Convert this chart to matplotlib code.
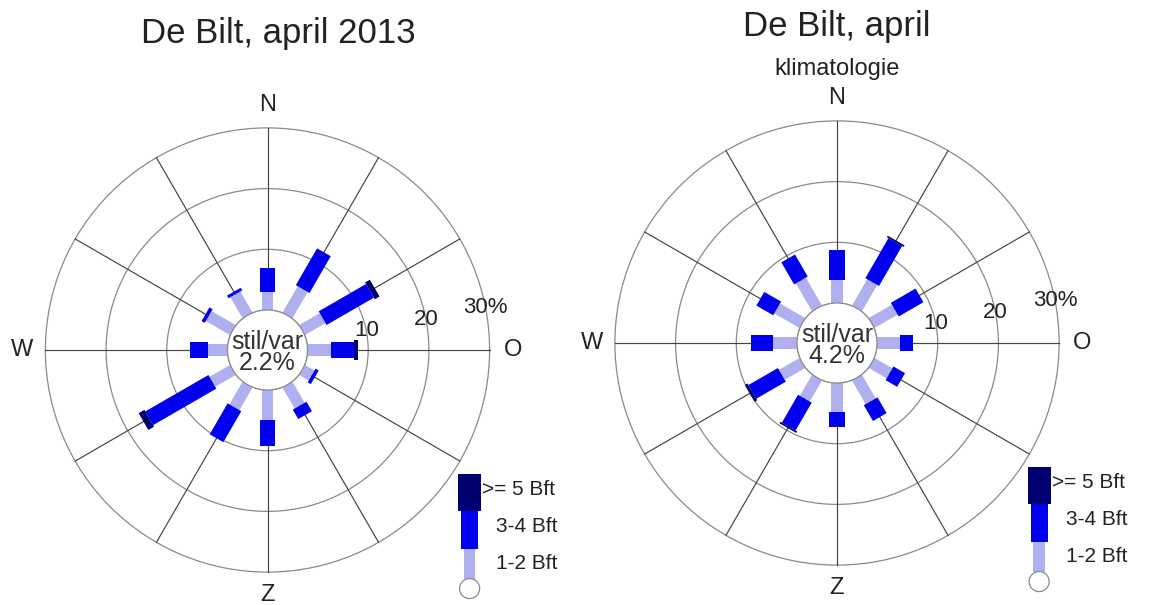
import numpy as np
import matplotlib
matplotlib.use("Agg")
import matplotlib.pyplot as plt
from matplotlib.patches import Polygon, Circle

plt.rcParams['font.family'] = ['Liberation Sans', 'DejaVu Sans']

# ---------------- data ----------------
directions = [0, 30, 60, 90, 120, 150, 180, 210, 240, 270, 300, 330]
compass_angles = [0, 90, 180, 270]
compass_labels = ['N', 'O', 'Z', 'W']
ring_values = [10, 20, 30]
ring_labels = ['10', '20', '30%']
legend_labels = ['>= 5 Bft', '3-4 Bft', '1-2 Bft']
calm_label = 'stil/var'

title_2013 = 'De Bilt, april 2013'
calm_2013 = 2.2
bft12_2013 = [3.0, 5.0, 3.9, 3.9, 1.8, 4.0, 5.0, 4.3, 3.9, 3.2, 4.6, 4.0]
bft34_2013 = [4.0, 7.0, 9.0, 3.7, 0.6, 1.8, 4.2, 5.9, 12.0, 2.9, 0.6, 0.5]
bft5_2013 = [0.0, 0.0, 0.9, 0.8, 0.0, 0.0, 0.0, 0.0, 1.1, 0.0, 0.0, 0.0]

title_clim = 'De Bilt, april'
subtitle_clim = 'klimatologie'
calm_clim = 4.2
bft12_clim = [3.8, 5.0, 4.4, 3.8, 3.4, 4.5, 4.7, 4.0, 3.9, 3.9, 4.8, 5.3]
bft34_clim = [4.9, 7.6, 4.7, 2.2, 2.2, 3.0, 2.5, 5.3, 5.6, 3.6, 3.2, 4.2]
bft5_clim = [0.0, 0.3, 0.0, 0.0, 0.0, 0.0, 0.0, 0.3, 0.5, 0.0, 0.0, 0.0]

# ---------------- style ----------------
W_PX, H_PX = 1151, 605
U = 6.07            # pixels per percent
R0 = 40 / U         # radius of calm circle (data units)
C_LIGHT = '#b0b0f0'
C_BLUE = '#0000ee'
C_DARK = '#000070'
W_LIGHT, W_BLUE, W_DARK = 1.9, 2.6, 3.2

fig = plt.figure(figsize=(W_PX / 100, H_PX / 100), dpi=100)
fig.patch.set_facecolor('white')


def make_ax(left_px, right_px, cx, cy):
    ax = fig.add_axes([left_px / W_PX, 0, (right_px - left_px) / W_PX, 1])
    ax.set_xlim((left_px - cx) / U, (right_px - cx) / U)
    ax.set_ylim((cy - H_PX) / U, cy / U)
    ax.axis('off')
    return ax


def bar(ax, ang, r1, r2, w, color, z=3):
    th = np.deg2rad(ang)
    d = np.array([np.sin(th), np.cos(th)])
    n = np.array([np.cos(th), -np.sin(th)])
    p1, p2 = d * r1, d * r2
    pts = [p1 + n * w / 2, p2 + n * w / 2, p2 - n * w / 2, p1 - n * w / 2]
    ax.add_patch(Polygon(pts, closed=True, facecolor=color, edgecolor='none', zorder=z))


def rose(ax, b12, b34, b5, calm):
    rmax = R0 + ring_values[-1]
    # rings
    for rv in [0] + ring_values:
        ax.add_patch(Circle((0, 0), R0 + rv, facecolor='none', edgecolor='#8a8a8a',
                            lw=0.9, zorder=1))
    # spokes
    for ang in directions:
        th = np.deg2rad(ang)
        ax.plot([R0 * np.sin(th), rmax * np.sin(th)], [R0 * np.cos(th), rmax * np.cos(th)],
                color='#444444', lw=0.85, zorder=2)
    # bars
    for ang, a, b, c in zip(directions, b12, b34, b5):
        r1 = R0 + a
        r2 = r1 + b
        r3 = r2 + c
        bar(ax, ang, R0, r1, W_LIGHT, C_LIGHT)
        if b > 0:
            bar(ax, ang, r1, r2, W_BLUE, C_BLUE)
        if c > 0:
            bar(ax, ang, r2, r3, W_DARK, C_DARK)
    # calm circle
    ax.add_patch(Circle((0, 0), R0, facecolor='white', edgecolor='#8a8a8a', lw=0.9, zorder=4))
    ax.text(0, 1.4, calm_label, ha='center', va='center', fontsize=18, color='#333333', zorder=5)
    ax.text(0, -2.2, f'{calm}%', ha='center', va='center', fontsize=18, color='#333333', zorder=5)
    # compass labels
    for ang, lab in zip(compass_angles, compass_labels):
        th = np.deg2rad(ang)
        ax.text(40.4 * np.sin(th), 40.4 * np.cos(th), lab, ha='center', va='center',
                fontsize=17, color='#222222')
    # ring labels
    for rv, lab in zip(ring_values, ring_labels):
        th = np.deg2rad(79)
        rr = R0 + rv
        ax.text(rr * np.sin(th), rr * np.cos(th), lab, ha='center', va='center',
                fontsize=16, color='#222222')
    # legend
    lx = 33.3
    ax.add_patch(Circle((lx, -39.3), 1.65, facecolor='white', edgecolor='#8a8a8a', lw=0.9, zorder=4))
    ax.fill_between([lx - W_LIGHT / 2, lx + W_LIGHT / 2], -37.65, -32.8, color=C_LIGHT, lw=0, zorder=3)
    ax.fill_between([lx - W_BLUE / 2 - 0.1, lx + W_BLUE / 2 + 0.1], -32.8, -26.6, color=C_BLUE, lw=0, zorder=3)
    ax.fill_between([lx - 1.9, lx + 1.9], -26.6, -20.5, color=C_DARK, lw=0, zorder=3)
    ax.text(35.4, -23.0, legend_labels[0], ha='left', va='center', fontsize=15, color='#222222')
    ax.text(37.7, -29.1, legend_labels[1], ha='left', va='center', fontsize=15, color='#222222')
    ax.text(37.7, -35.2, legend_labels[2], ha='left', va='center', fontsize=15, color='#222222')


ax1 = make_ax(0, 575.5, 267.5, 350)
rose(ax1, bft12_2013, bft34_2013, bft5_2013, calm_2013)
ax2 = make_ax(575.5, 1151, 837, 343)
rose(ax2, bft12_clim, bft34_clim, bft5_clim, calm_clim)

fig.text(278 / W_PX, 1 - 43 / H_PX, title_2013, ha='center', va='baseline', fontsize=25, color='#222222')
fig.text(837 / W_PX, 1 - 36 / H_PX, title_clim, ha='center', va='baseline', fontsize=25, color='#222222')
fig.text(837 / W_PX, 1 - 75 / H_PX, subtitle_clim, ha='center', va='baseline', fontsize=17, color='#222222')

fig.savefig('out.png', dpi=100, facecolor='white')
